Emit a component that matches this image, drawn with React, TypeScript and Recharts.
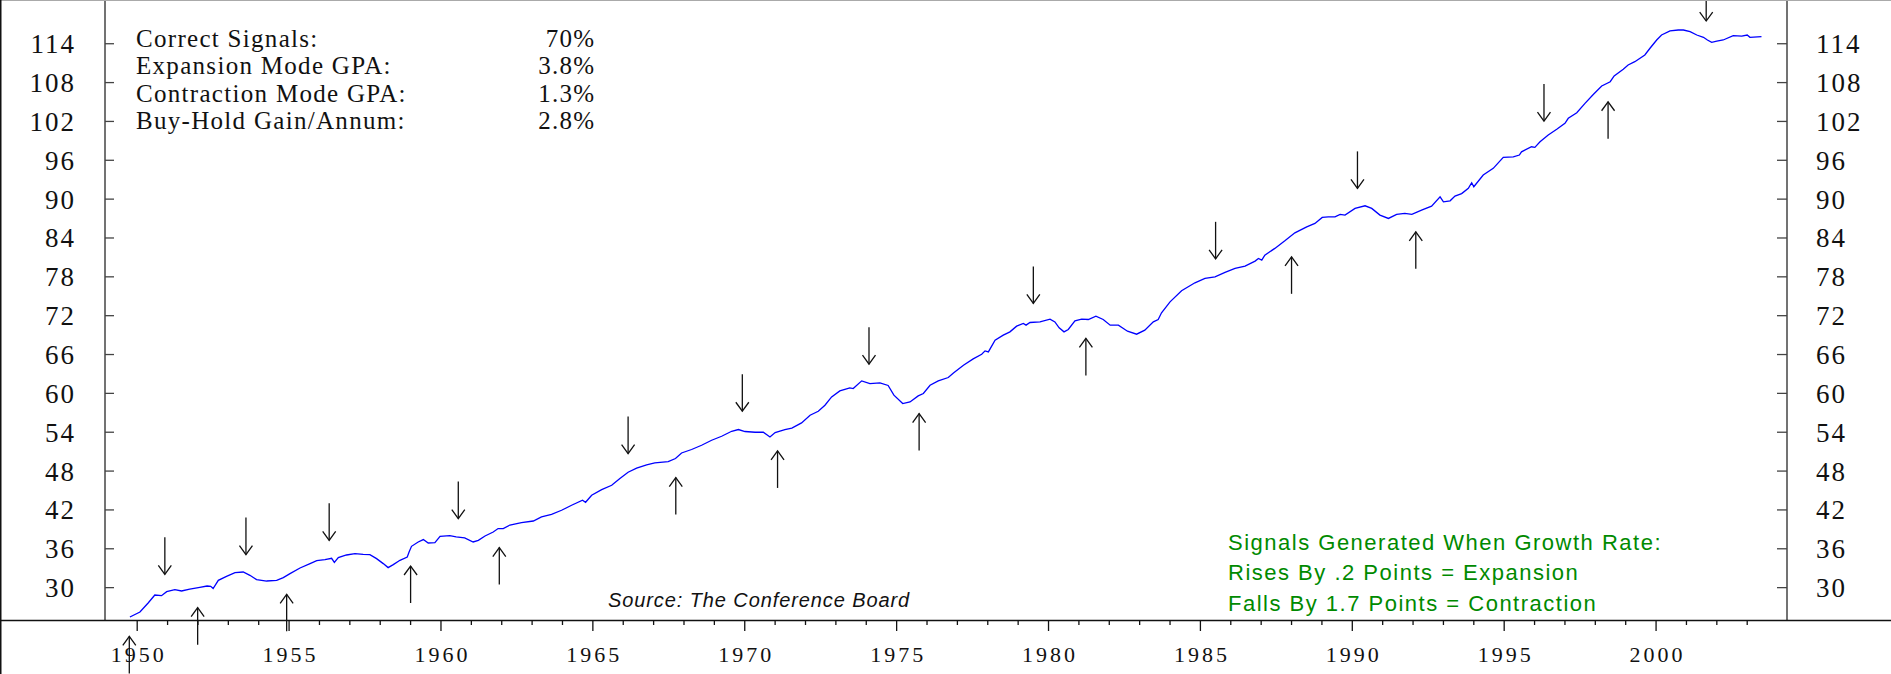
import React from 'react';
import { LineChart, Line, XAxis, YAxis, ReferenceDot } from 'recharts';

// ---- data ----
const years: number[] = [
  1949.76, 1950.09, 1950.36, 1950.58, 1950.8, 1950.97, 1951.24, 1951.46, 1951.73, 1952.06,
  1952.3, 1952.42, 1952.5, 1952.67, 1952.94, 1953.22, 1953.49, 1953.71, 1953.93, 1954.26,
  1954.59, 1954.81, 1955.03, 1955.36, 1955.69, 1955.91, 1956.18, 1956.4, 1956.49, 1956.62,
  1956.89, 1957.17, 1957.44, 1957.66, 1957.88, 1958.1, 1958.26, 1958.43, 1958.65, 1958.89,
  1958.95, 1959.03, 1959.25, 1959.42, 1959.58, 1959.8, 1959.97, 1960.29, 1960.5, 1960.78,
  1961.06, 1961.23, 1961.45, 1961.72, 1961.88, 1962.05, 1962.27, 1962.65, 1963.04, 1963.31,
  1963.64, 1963.97, 1964.3, 1964.66, 1964.76, 1964.96, 1965.29, 1965.62, 1965.89, 1966.16,
  1966.44, 1966.77, 1967.04, 1967.48, 1967.72, 1967.92, 1968.25, 1968.58, 1968.91, 1969.24,
  1969.57, 1969.79, 1970.01, 1970.34, 1970.61, 1970.83, 1971.0, 1971.32, 1971.55, 1971.87,
  1972.15, 1972.42, 1972.64, 1972.86, 1973.13, 1973.46, 1973.57, 1973.85, 1974.12, 1974.45,
  1974.72, 1974.91, 1975.2, 1975.44, 1975.71, 1975.88, 1976.1, 1976.37, 1976.7, 1976.87,
  1977.2, 1977.52, 1977.8, 1977.91, 1978.02, 1978.24, 1978.51, 1978.73, 1978.95, 1979.17,
  1979.26, 1979.39, 1979.72, 1980.05, 1980.21, 1980.35, 1980.51, 1980.65, 1980.87, 1981.09,
  1981.31, 1981.56, 1981.8, 1982.03, 1982.3, 1982.6, 1982.9, 1983.17, 1983.45, 1983.61,
  1983.72, 1984.0, 1984.38, 1984.82, 1985.15, 1985.48, 1985.81, 1986.14, 1986.47, 1986.8,
  1986.91, 1987.02, 1987.12, 1987.45, 1987.78, 1988.11, 1988.5, 1988.77, 1989.01, 1989.21,
  1989.43, 1989.6, 1989.76, 1990.09, 1990.42, 1990.64, 1990.91, 1991.19, 1991.46, 1991.73,
  1991.96, 1992.28, 1992.61, 1992.89, 1993.0, 1993.22, 1993.38, 1993.6, 1993.82, 1993.93,
  1994.0, 1994.31, 1994.64, 1994.97, 1995.3, 1995.5, 1995.57, 1995.9, 1996.01, 1996.18,
  1996.45, 1996.73, 1997.0, 1997.11, 1997.39, 1997.66, 1997.94, 1998.21, 1998.49, 1998.62,
  1998.92, 1999.08, 1999.3, 1999.63, 1999.8, 2000.02, 2000.18, 2000.46, 2000.73, 2000.9,
  2001.12, 2001.34, 2001.56, 2001.69, 2001.83, 2002.0, 2002.21, 2002.54, 2002.82, 2003.0,
  2003.09, 2003.47,
];

const values: number[] = [
  25.46, 26.23, 27.62, 28.86, 28.76, 29.38, 29.69, 29.48, 29.78, 30.05,
  30.25, 30.2, 29.85, 31.13, 31.75, 32.32, 32.41, 31.9, 31.24, 31.02,
  31.13, 31.55, 32.16, 33.03, 33.71, 34.17, 34.33, 34.53, 33.91, 34.64,
  35.04, 35.25, 35.15, 35.1, 34.48, 33.71, 33.09, 33.55, 34.22, 34.73,
  35.5, 36.38, 37.05, 37.42, 36.89, 36.95, 37.93, 38.04, 37.85, 37.67,
  37.05, 37.31, 37.97, 38.59, 39.12, 39.12, 39.67, 40.04, 40.29, 40.91,
  41.33, 41.95, 42.72, 43.49, 43.18, 44.26, 45.14, 45.81, 46.84, 47.82,
  48.44, 48.95, 49.26, 49.47, 49.94, 50.8, 51.33, 51.99, 52.76, 53.38,
  54.15, 54.42, 54.11, 54.0, 54.0, 53.27, 53.95, 54.42, 54.65, 55.44,
  56.63, 57.24, 58.17, 59.45, 60.38, 60.85, 60.75, 61.93, 61.52, 61.62,
  61.22, 59.72, 58.43, 58.68, 59.61, 59.98, 61.26, 61.93, 62.45, 63.16,
  64.35, 65.33, 66.05, 66.56, 66.41, 68.22, 68.99, 69.5, 70.38, 70.8,
  70.54, 70.95, 71.04, 71.46, 71.04, 70.12, 69.5, 69.87, 71.2, 71.46,
  71.41, 71.93, 71.41, 70.54, 70.54, 69.6, 69.14, 69.76, 71.04, 71.41,
  72.44, 74.14, 75.84, 77.08, 77.75, 78.0, 78.68, 79.3, 79.65, 80.43,
  80.84, 80.58, 81.35, 82.39, 83.56, 84.8, 85.72, 86.25, 87.18, 87.27,
  87.27, 87.64, 87.53, 88.57, 88.97, 88.57, 87.53, 87.02, 87.64, 87.8,
  87.64, 88.3, 88.92, 90.36, 89.59, 89.74, 90.47, 90.85, 91.66, 92.53,
  91.91, 93.72, 94.75, 96.45, 96.54, 96.81, 97.31, 98.09, 97.99, 98.86,
  99.9, 100.78, 101.71, 102.48, 103.34, 104.79, 106.19, 107.47, 108.13, 109.02,
  110.05, 110.72, 111.23, 112.26, 113.3, 114.58, 115.35, 115.97, 116.12, 116.12,
  115.86, 115.35, 114.99, 114.58, 114.22, 114.42, 114.58, 115.24, 115.19, 115.35,
  114.99, 115.09,
];

// contraction signals (arrow pointing down, tip value)
const downYears: number[] = [1950.91, 1953.58, 1956.32, 1960.57, 1966.16, 1969.92, 1974.09, 1979.5, 1985.5, 1990.17, 1996.31, 2001.65];
const downTips: number[] = [32.06, 35.1, 37.31, 40.66, 50.7, 57.24, 64.51, 73.89, 80.78, 91.66, 102.06, 117.51];
// expansion signals (arrow pointing up, tip value)
const upYears: number[] = [1949.74, 1951.99, 1954.92, 1959.0, 1961.92, 1967.73, 1971.08, 1975.74, 1981.23, 1988.0, 1992.09, 1998.42];
const upTips: number[] = [22.47, 26.91, 28.96, 33.34, 36.18, 47.0, 51.11, 56.89, 68.48, 81.09, 84.95, 105.04];

const yTicks: number[] = [30, 36, 42, 48, 54, 60, 66, 72, 78, 84, 90, 96, 102, 108, 114];
const xTicks: number[] = Array.from({ length: 54 }, (_, i) => 1950 + i);
const xDomain: [number, number] = [1948.94, 2004.31];
const yDomain: [number, number] = [25, 120.6];

const statLabels: string[] = ['Correct Signals:', 'Expansion Mode GPA:', 'Contraction Mode GPA:', 'Buy-Hold Gain/Annum:'];
const statValues: string[] = ['70%', '3.8%', '1.3%', '2.8%'];
const noteLines: string[] = ['Signals Generated When Growth Rate:', 'Rises By .2 Points = Expansion', 'Falls By 1.7 Points = Contraction'];
const sourceText = 'Source: The Conference Board';

// ---- styling ----
const W = 1891;
const H = 674;
const SERIF = '"Liberation Serif", "Times New Roman", serif';
const SANS = '"Liberation Sans", Arial, sans-serif';
const INK = '#111';

const XTick = (props: any) => {
  const { x, y, payload } = props;
  const v = payload.value as number;
  const major = Math.round(v) % 5 === 0;
  return (
    <g>
      <line x1={x} x2={x} y1={y} y2={y + (major ? 11 : 5)} stroke={INK} strokeWidth={1.3} />
      {major && (
        <text x={x + 1.5} y={y + 42} textAnchor="middle" fontFamily={SERIF} fontSize={22} letterSpacing={3} fill={INK}>
          {v}
        </text>
      )}
    </g>
  );
};

const LeftTick = (props: any) => {
  const { x, y, payload } = props;
  return (
    <g>
      <line x1={x} x2={x + 9} y1={y} y2={y} stroke="#444" strokeWidth={1.3} />
      <text x={x - 29} y={y + 9.5} textAnchor="end" fontFamily={SERIF} fontSize={27} letterSpacing={2} fill={INK}>
        {payload.value}
      </text>
    </g>
  );
};

const RightTick = (props: any) => {
  const { x, y, payload } = props;
  return (
    <g>
      <line x1={x - 10} x2={x} y1={y} y2={y} stroke="#444" strokeWidth={1.3} />
      <text x={x + 29} y={y + 9.5} textAnchor="start" fontFamily={SERIF} fontSize={27} letterSpacing={2} fill={INK}>
        {payload.value}
      </text>
    </g>
  );
};

const ARROW_LEN = 37;
const HEAD_W = 6.5;
const HEAD_H = 9;

const DownArrow = (props: any) => {
  const { cx, cy } = props;
  return (
    <g stroke={INK} strokeWidth={1.3} fill="none">
      <line x1={cx} x2={cx} y1={cy - ARROW_LEN} y2={cy} />
      <polyline points={`${cx - HEAD_W},${cy - HEAD_H} ${cx},${cy} ${cx + HEAD_W},${cy - HEAD_H}`} />
    </g>
  );
};

const UpArrow = (props: any) => {
  const { cx, cy } = props;
  return (
    <g stroke={INK} strokeWidth={1.3} fill="none">
      <line x1={cx} x2={cx} y1={cy} y2={cy + ARROW_LEN} />
      <polyline points={`${cx - HEAD_W},${cy + HEAD_H} ${cx},${cy} ${cx + HEAD_W},${cy + HEAD_H}`} />
    </g>
  );
};

export default function App() {
  const data = years.map((yr, i) => ({ year: yr, v: values[i] }));
  return (
    <div style={{ position: 'absolute', left: 0, top: 0, width: W, height: H, background: '#fff', overflow: 'hidden' }}>
      <LineChart width={W} height={H} data={data} margin={{ top: 1, right: 0, bottom: 0, left: 0 }}>
        <XAxis
          dataKey="year"
          type="number"
          domain={xDomain}
          ticks={xTicks}
          interval={0}
          allowDataOverflow
          tickLine={false}
          axisLine={false}
          tickSize={0}
          tickMargin={0}
          height={54}
          tick={XTick}
        />
        <YAxis
          yAxisId="l"
          orientation="left"
          type="number"
          width={105}
          domain={yDomain}
          ticks={yTicks}
          interval={0}
          allowDataOverflow
          tickLine={false}
          tickSize={0}
          tickMargin={0}
          axisLine={{ stroke: '#444', strokeWidth: 1.5 }}
          tick={LeftTick}
        />
        <YAxis
          yAxisId="r"
          orientation="right"
          type="number"
          width={104}
          domain={yDomain}
          ticks={yTicks}
          interval={0}
          allowDataOverflow
          tickLine={false}
          tickSize={0}
          tickMargin={0}
          axisLine={{ stroke: '#444', strokeWidth: 1.5 }}
          tick={RightTick}
        />
        <Line
          yAxisId="l"
          type="linear"
          dataKey="v"
          stroke="#0000ff"
          strokeWidth={1.3}
          dot={false}
          activeDot={false}
          isAnimationActive={false}
        />
        {downYears.map((yr, i) => (
          <ReferenceDot key={`d${i}`} yAxisId="l" x={yr} y={downTips[i]} r={0} ifOverflow="visible" shape={DownArrow} />
        ))}
        {upYears.map((yr, i) => (
          <ReferenceDot key={`u${i}`} yAxisId="l" x={yr} y={upTips[i]} r={0} ifOverflow="visible" shape={UpArrow} />
        ))}
      </LineChart>
      <svg width={W} height={H} style={{ position: 'absolute', left: 0, top: 0, pointerEvents: 'none' }}>
        <line x1={0} x2={W} y1={0.5} y2={0.5} stroke="#aaa" strokeWidth={1} />
        <line x1={0.75} x2={0.75} y1={0} y2={H} stroke={INK} strokeWidth={1.5} />
        <line x1={0} x2={W} y1={620.5} y2={620.5} stroke={INK} strokeWidth={1.5} />
        {statLabels.map((t, i) => (
          <text key={`sl${i}`} x={136} y={46.7 + i * 27.5} fontFamily={SERIF} fontSize={25} letterSpacing={1.3} fill={INK}>
            {t}
          </text>
        ))}
        {statValues.map((t, i) => (
          <text key={`sv${i}`} x={595.5} y={46.7 + i * 27.5} textAnchor="end" fontFamily={SERIF} fontSize={25} letterSpacing={1.3} fill={INK}>
            {t}
          </text>
        ))}
        {noteLines.map((t, i) => (
          <text key={`n${i}`} x={1228} y={550 + i * 30.3} fontFamily={SANS} fontSize={22} letterSpacing={1.5} fill="#008a00">
            {t}
          </text>
        ))}
        <text x={608} y={607.3} fontFamily={SANS} fontStyle="italic" fontSize={20} letterSpacing={0.9} fill={INK}>
          {sourceText}
        </text>
      </svg>
    </div>
  );
}
